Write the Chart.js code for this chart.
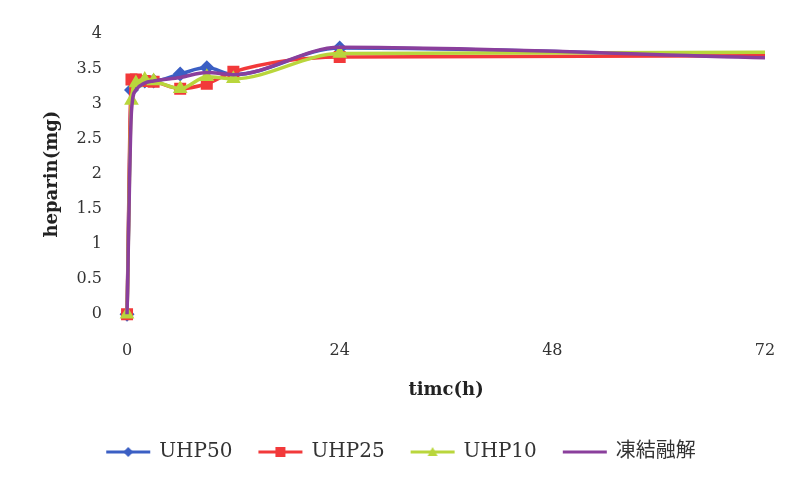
<!DOCTYPE html>
<html>
<head>
<meta charset="utf-8">
<script src="https://cdn.jsdelivr.net/npm/chart.js@4.4.1/dist/chart.umd.min.js"></script>
<style>
  html, body { margin: 0; padding: 0; background: #fff; }
  #wrap { width: 790px; height: 478px; position: relative; }
</style>
</head>
<body>
<div id="wrap"><canvas id="c" width="790" height="478"></canvas></div>
<script>
// time points (h)
const times = [0, 0.5, 1, 2, 3, 6, 9, 12, 24, 72];
const uhp50 = [0, 3.2, 3.3, 3.33, 3.33, 3.43, 3.52, 3.42, 3.8, 3.67];
const uhp25 = [0, 3.35, 3.35, 3.33, 3.32, 3.22, 3.29, 3.46, 3.67, 3.69];
const uhp10 = [0, 3.05, 3.3, 3.35, 3.33, 3.22, 3.39, 3.36, 3.72, 3.74];
const thaw  = [0, 2.9, 3.2, 3.3, 3.33, 3.38, 3.45, 3.42, 3.81, 3.66];
const seriesNames = ['UHP50', 'UHP25', 'UHP10', '凍結融解'];
const xTicks = [0, 24, 48, 72];

const serif = "'DejaVu Serif', 'Noto Sans CJK JP', serif";
const ink = '#333';

const colors = ['#3b5fc4', '#f2393a', '#b9d63c', '#8a3f9c'];
const markers = ['rectRot', 'rect', 'triangle', false];
const radii = [5, 6, 5, 0];

const pts = arr => arr.map((v, i) => ({ x: times[i], y: v }));

// little "line + marker" swatch for the legend
function swatch(color, marker) {
  const c = document.createElement('canvas');
  c.width = 50; c.height = 12;
  const g = c.getContext('2d');
  g.strokeStyle = color; g.fillStyle = color; g.lineWidth = 3;
  g.beginPath(); g.moveTo(3, 6); g.lineTo(47, 6); g.stroke();
  g.beginPath();
  if (marker === 'rectRot') { g.moveTo(25, 1); g.lineTo(30, 6); g.lineTo(25, 11); g.lineTo(20, 6); }
  else if (marker === 'rect') { g.rect(20, 1, 10, 10); }
  else if (marker === 'triangle') { g.moveTo(25, 1); g.lineTo(30, 10); g.lineTo(20, 10); }
  g.closePath(); g.fill();
  return c;
}

const allSeries = [uhp50, uhp25, uhp10, thaw];
const datasets = allSeries.map((s, i) => ({
  label: seriesNames[i],
  data: pts(s),
  borderColor: colors[i],
  backgroundColor: colors[i],
  borderWidth: 3.5,
  pointStyle: markers[i],
  // no marker on the 72 h end point
  pointRadius: times.map((t, k) => k === times.length - 1 ? 0 : radii[i]),
  pointHoverRadius: radii[i],
  cubicInterpolationMode: 'monotone',
  clip: false,
  order: 4 - i
}));

new Chart(document.getElementById('c'), {
  type: 'line',
  data: { datasets },
  options: {
    responsive: false,
    animation: false,
    layout: { padding: { left: 38, right: 25, top: 34, bottom: 6 } },
    plugins: {
      tooltip: { enabled: false },
      legend: {
        position: 'bottom',
        labels: {
          usePointStyle: true,
          pointStyleWidth: 42,
          boxHeight: 12,
          padding: 27,
          color: ink,
          font: { family: serif, size: 20 },
          generateLabels: (chart) => chart.data.datasets.map((d, i) => ({
            text: d.label,
            pointStyle: swatch(colors[i], markers[i]),
            fillStyle: colors[i],
            strokeStyle: colors[i],
            lineWidth: 0,
            fontColor: ink,
            datasetIndex: i,
            hidden: false
          }))
        }
      }
    },
    scales: {
      x: {
        type: 'linear',
        min: 0, max: 72,
        afterBuildTicks: ax => { ax.ticks = xTicks.map(v => ({ value: v })); },
        grid: { display: false, tickLength: 23 },
        border: { display: false },
        ticks: { color: ink, padding: 4, font: { family: serif, size: 16 } },
        title: {
          display: true, text: 'timc(h)', color: '#222',
          font: { family: serif, size: 18, weight: 'bold' },
          padding: { top: 15, bottom: 14 }
        }
      },
      y: {
        min: 0, max: 4,
        grid: { display: false },
        border: { display: false },
        ticks: {
          stepSize: 0.5, color: ink, padding: 17,
          font: { family: serif, size: 16 },
          callback: v => String(v)
        },
        title: {
          display: true, text: 'heparin(mg)', color: '#222',
          font: { family: serif, size: 18, weight: 'bold' },
          padding: { top: 4, bottom: -4 }
        }
      }
    }
  }
});
</script>
</body>
</html>
